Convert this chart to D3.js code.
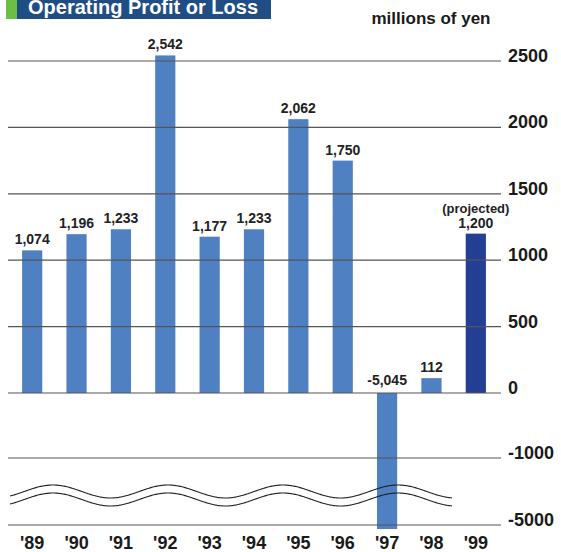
<!DOCTYPE html>
<html>
<head>
<meta charset="utf-8">
<script src="https://cdn.jsdelivr.net/npm/d3@7"></script>
<style>
    html, body { margin: 0; padding: 0; background: #fff; }
    text { font-family: 'Liberation Sans', Arial, sans-serif; font-weight: bold; }
</style>
</head>
<body>
<div class="chart"></div>
<script>
const years = ["'89", "'90", "'91", "'92", "'93", "'94", "'95", "'96", "'97", "'98", "'99"];
const profit = [1074, 1196, 1233, 2542, 1177, 1233, 2062, 1750, -5045, 112, 1200];
const projected = [false, false, false, false, false, false, false, false, false, false, true];
const yTicks = [2500, 2000, 1500, 1000, 500, 0, -1000, -5000];

const w = 561;
const h = 552;
const gridLeft = 8;
const gridRight = 501;
const breakAt = -1000;
const plotBottom = 529;

const svg = d3.select('.chart').append('svg').attr('width', w).attr('height', h);

// broken axis: 0..2500 linear, then -1000 and -5000 squeezed below
const y = d3.scaleLinear()
    .domain([-5000, -1000, 0, 2500])
    .range([525, 458, 393, 61]);

const x = d3.scaleBand()
    .domain(years)
    .range([11, 497])
    .paddingInner(0.545)
    .paddingOuter(0.25);

// plain hyphen for negatives, like the printed chart
const fmt = (v) => d3.format(',')(v).replace('\u2212', '-');

// title
svg.append('rect').attr('x', 6).attr('y', 0).attr('width', 11).attr('height', 19).attr('fill', '#6cbf44');
svg.append('rect').attr('x', 17).attr('y', 0).attr('width', 254).attr('height', 19).attr('fill', '#1f4e85');
svg.append('text')
    .attr('x', 28).attr('y', 14)
    .attr('fill', '#fff')
    .style('font-size', '20px')
    .text('Operating Profit or Loss');

svg.append('text')
    .attr('x', 431).attr('y', 24)
    .attr('text-anchor', 'middle')
    .attr('fill', '#1a1a1a')
    .style('font-size', '17px')
    .text('millions of yen');

// bars
const data = years.map((yr, i) => ({ yr, v: profit[i], proj: projected[i] }));

svg.selectAll('.bar')
    .data(data)
    .enter()
    .append('rect')
    .attr('class', 'bar')
    .attr('x', (d) => x(d.yr))
    .attr('width', x.bandwidth())
    .attr('y', (d) => (d.v >= 0 ? y(d.v) : y(0)))
    .attr('height', (d) => {
        if (d.v >= 0) return y(0) - y(d.v);
        const bottom = d.v < breakAt ? plotBottom : y(d.v);
        return bottom - y(0);
    })
    .attr('fill', (d) => (d.proj ? '#223f94' : '#4f80c2'));

// gridlines + right axis labels
const ticks = svg.selectAll('.tick')
    .data(yTicks)
    .enter()
    .append('g')
    .attr('class', 'tick')
    .attr('transform', (d) => `translate(0,${y(d)})`);

ticks.append('line')
    .attr('x1', gridLeft)
    .attr('x2', gridRight)
    .attr('stroke', '#555')
    .attr('stroke-width', 1.2);

ticks.append('text')
    .attr('x', 508)
    .attr('dy', 1)
    .attr('fill', '#1a1a1a')
    .style('font-size', '18px')
    .text((d) => d);

// wavy break marks
const period = 115;
const amp = 6.5;
const waveLine = d3.line();
[491.5, 499.5].forEach((c) => {
    const pts = d3.range(10, 453, 1).map((px) => [px, c - amp * Math.cos((2 * Math.PI * (px - 53)) / period)]);
    svg.append('path')
        .attr('d', waveLine(pts))
        .attr('fill', 'none')
        .attr('stroke', '#222')
        .attr('stroke-width', 1.1);
});

// value labels
svg.selectAll('.val')
    .data(data)
    .enter()
    .append('text')
    .attr('class', 'val')
    .attr('x', (d) => x(d.yr) + x.bandwidth() / 2)
    .attr('y', (d) => (d.v >= 0 ? y(d.v) - 6 : y(0) - 8))
    .attr('text-anchor', 'middle')
    .attr('fill', '#222')
    .style('font-size', '14px')
    .text((d) => fmt(d.v));

svg.selectAll('.proj')
    .data(data.filter((d) => d.proj))
    .enter()
    .append('text')
    .attr('class', 'proj')
    .attr('x', (d) => x(d.yr) + x.bandwidth() / 2)
    .attr('y', (d) => y(d.v) - 21)
    .attr('text-anchor', 'middle')
    .attr('fill', '#222')
    .style('font-size', '13px')
    .text('(projected)');

// x labels
svg.selectAll('.xl')
    .data(years)
    .enter()
    .append('text')
    .attr('class', 'xl')
    .attr('x', (d) => x(d) + x.bandwidth() / 2)
    .attr('y', 549)
    .attr('text-anchor', 'middle')
    .attr('fill', '#1a1a1a')
    .style('font-size', '18px')
    .text((d) => d);
</script>
</body>
</html>
